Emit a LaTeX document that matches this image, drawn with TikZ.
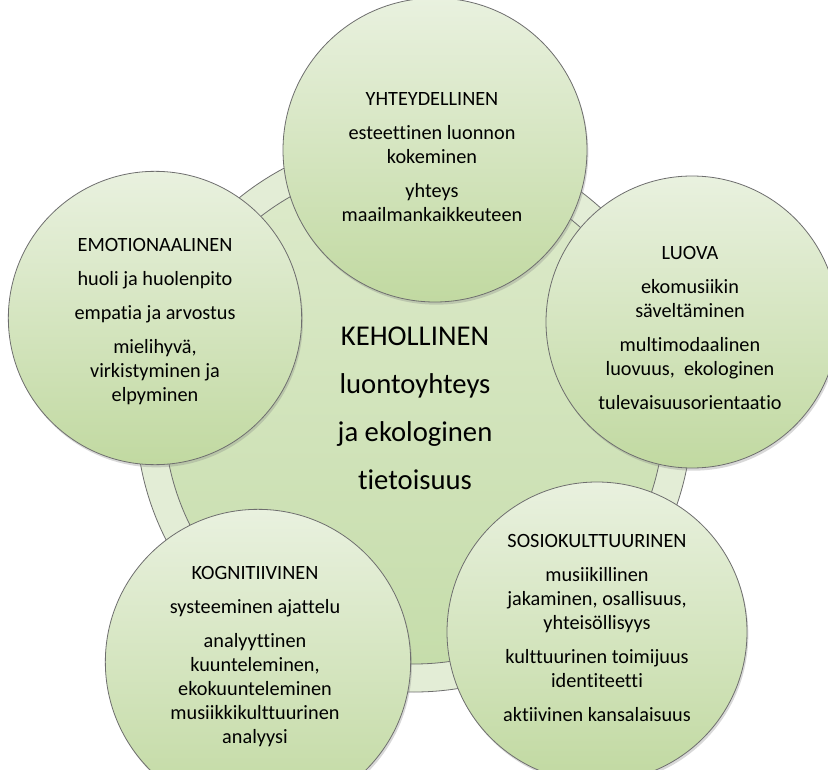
\documentclass[tikz,border=0pt]{standalone}
\usepackage{fontspec}
\setmainfont{Carlito}[Ligatures={NoCommon}]
\usetikzlibrary{shadows}
\definecolor{satTop}{HTML}{E9F1DF}
\definecolor{satBot}{HTML}{C1D9A1}
\definecolor{coreTop}{HTML}{DDEACB}
\definecolor{coreBot}{HTML}{C6DDAB}
\definecolor{ringFill}{HTML}{E3EDD6}
\definecolor{edgeGray}{HTML}{6E6E6E}
\tikzset{
  ringshape/.style={circle, draw=edgeGray, line width=0.6pt, fill=ringFill, inner sep=0pt, outer sep=0pt},
  coreshape/.style={circle, draw=edgeGray, line width=0.6pt, top color=coreTop, bottom color=coreBot, inner sep=0pt, outer sep=0pt},
  satshape/.style={circle, draw=edgeGray, line width=0.6pt, top color=satTop, bottom color=satBot, inner sep=0pt, outer sep=0pt,
    drop shadow={opacity=0.3, shadow xshift=1pt, shadow yshift=-2pt}},
  sattext/.style={align=center, inner sep=0pt, font=\fontsize{15.2}{18}\selectfont, text=black},
  coretext/.style={align=center, inner sep=0pt, font=\fontsize{21.5}{36}\selectfont, text=black},
}
\begin{document}
\begin{tikzpicture}[x=0.75pt, y=-0.75pt]
\useasboundingbox (0,0) rectangle (828,770);
\clip (0,0) rectangle (828,770);
\fill[white] (0,0) rectangle (828,770);
% ring and core
\node[ringshape, minimum size=417pt] (ring) at (414,414) {};
\node[coreshape, minimum size=375pt] (core) at (414,414) {};
% satellites
\node[satshape, minimum size=228pt] (top) at (435,150) {};
\node[satshape, minimum size=220pt] (left) at (155,318) {};
\node[satshape, minimum size=219pt] (right) at (692,322) {};
\node[satshape, minimum size=225pt] (bright) at (597,632) {};
\node[satshape, minimum size=229pt] (bleft) at (258,662) {};
% texts
\node[coretext] (coreT) at (415,408) {KEHOLLINEN\\luontoyhteys\\ja ekologinen\\tietoisuus};
\node[sattext] (topT) at (432,157) {YHTEYDELLINEN\\[7.5pt]esteettinen luonnon\\kokeminen\\[7.5pt]yhteys\\maailmankaikkeuteen};
\node[sattext] (leftT) at (155,322) {EMOTIONAALINEN\\[7.5pt]huoli ja huolenpito\\[7.5pt]empatia ja arvostus\\[7.5pt]mielihyvä,\\virkistyminen ja\\elpyminen};
\node[sattext] (rightT) at (690,328) {LUOVA\\[7.5pt]ekomusiikin\\säveltäminen\\[7.5pt]multimodaalinen\\luovuus,\ \ ekologinen\\[7.5pt]tulevaisuusorientaatio};
\node[sattext] (bleftT) at (255,657) {KOGNITIIVINEN\\[7.5pt]systeeminen ajattelu\\[7.5pt]analyyttinen\\kuunteleminen,\\ekokuunteleminen\\musiikkikulttuurinen\\analyysi};
\node[sattext] (brightT) at (597,628) {SOSIOKULTTUURINEN\\[7.5pt]musiikillinen\\jakaminen, osallisuus,\\yhteisöllisyys\\[7.5pt]kulttuurinen toimijuus\\identiteetti\\[7.5pt]aktiivinen kansalaisuus};
\end{tikzpicture}
\end{document}
